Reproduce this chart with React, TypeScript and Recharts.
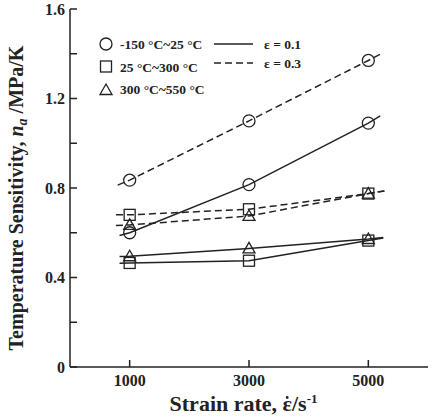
import {
  ComposedChart,
  Line,
  Scatter,
  XAxis,
  YAxis,
  Label,
} from "recharts";

// strain rates (s^-1) where the points were measured
const rates = [1000, 3000, 5000];

// temperature sensitivity, MPa/K
const circle01 = [0.6, 0.815, 1.09];
const circle03 = [0.835, 1.1, 1.37];
const square01 = [0.465, 0.475, 0.565];
const square03 = [0.68, 0.705, 0.775];
const tri01 = [0.495, 0.53, 0.572];
const tri03 = [0.635, 0.675, 0.775];

// where the drawn lines begin and end (rate, value)
const circle01Ends = [[830, 0.588], [5200, 1.122]];
const circle03Ends = [[800, 0.813], [5200, 1.398]];
const square01Ends = [[830, 0.464], [5250, 0.577]];
const square03Ends = [[770, 0.68], [5270, 0.787]];
const tri01Ends = [[830, 0.494], [5250, 0.579]];
const tri03Ends = [[770, 0.632], [5270, 0.787]];

const xTicks = [1000, 3000, 5000];
const yTicks = [0, 0.2, 0.4, 0.6, 0.8, 1.0, 1.2, 1.4, 1.6];

const legendTemps = ["-150 °C~25 °C", "25 °C~300 °C", "300 °C~550 °C"];
const legendStrains = ["ε = 0.1", "ε = 0.3"];

const FONT = '"Liberation Serif", "Times New Roman", serif';
const INK = "#222";

const points = (vals: number[]) => rates.map((x, i) => ({ x, y: vals[i] }));
const fitLine = (vals: number[], ends: number[][]) => [
  { x: ends[0][0], y: ends[0][1] },
  ...points(vals),
  { x: ends[1][0], y: ends[1][1] },
];

const circleShape = (p: any) => (
  <circle cx={p.cx} cy={p.cy} r={6} fill="none" stroke={INK} strokeWidth={1.3} />
);
const squareShape = (p: any) => (
  <rect x={p.cx - 5.5} y={p.cy - 5.5} width={11} height={11} fill="none" stroke={INK} strokeWidth={1.3} />
);
const triShape = (p: any) => (
  <polygon
    points={`${p.cx},${p.cy - 6} ${p.cx - 6},${p.cy + 4.5} ${p.cx + 6},${p.cy + 4.5}`}
    fill="none"
    stroke={INK}
    strokeWidth={1.3}
  />
);

const yTitle = (props: any) => {
  const vb = props.viewBox;
  const cx = vb.x + 23;
  const cy = 198;
  return (
    <text
      x={cx}
      y={cy}
      transform={`rotate(-90 ${cx} ${cy})`}
      textAnchor="middle"
      fontFamily={FONT}
      fontWeight="bold"
      fontSize={20}
      fill={INK}
    >
      Temperature Sensitivity,{" "}
      <tspan fontStyle="italic">n</tspan>
      <tspan fontStyle="italic" fontSize={14} dy={4}>a</tspan>
      <tspan dy={-4}> /MPa/K</tspan>
    </text>
  );
};

const xTitle = (props: any) => {
  const vb = props.viewBox;
  const y = vb.y + 44;
  const split = 292;
  return (
    <g fontFamily={FONT} fontWeight="bold" fontSize={22} fill={INK}>
      <text x={split} y={y} textAnchor="end">
        Strain rate, ε
      </text>
      <circle cx={split - 4.8} cy={y - 13.5} r={1.4} fill={INK} />
      <text x={split} y={y}>
        /s<tspan fontSize={13} dy={-8}>-1</tspan>
      </text>
    </g>
  );
};

const tickStyle = { fontFamily: FONT, fontWeight: "bold", fontSize: 16, fill: INK };
const yFmt = (v: number) => {
  const t = Math.round(v * 10);
  if (t % 4 !== 0) return "";
  return t === 0 ? "0" : (t / 10).toFixed(1);
};

function Legend() {
  const rows = [44, 66.5, 89];
  return (
    <svg
      width={433}
      height={418}
      style={{ position: "absolute", left: 0, top: 0, pointerEvents: "none" }}
    >
      <g fontFamily={FONT} fontWeight="bold" fontSize={13.5} fill={INK}>
        {circleShape({ cx: 106, cy: rows[0] })}
        {squareShape({ cx: 106, cy: rows[1] })}
        {triShape({ cx: 106, cy: rows[2] + 1 })}
        {legendTemps.map((t, i) => (
          <text key={t} x={120} y={rows[i] + 5}>
            {t}
          </text>
        ))}
        <line x1={214} x2={253} y1={44} y2={44} stroke={INK} strokeWidth={1.5} />
        <line x1={214} x2={253} y1={63} y2={63} stroke={INK} strokeWidth={1.5} strokeDasharray="7 4" />
        {legendStrains.map((t, i) => (
          <text key={t} x={264} y={(i === 0 ? 44 : 63) + 5}>
            {t}
          </text>
        ))}
      </g>
    </svg>
  );
}

export default function App() {
  const lines = [
    { data: fitLine(circle01, circle01Ends), dash: undefined },
    { data: fitLine(circle03, circle03Ends), dash: "7 4" },
    { data: fitLine(square01, square01Ends), dash: undefined },
    { data: fitLine(square03, square03Ends), dash: "7 4" },
    { data: fitLine(tri01, tri01Ends), dash: undefined },
    { data: fitLine(tri03, tri03Ends), dash: "7 4" },
  ];
  return (
    <div style={{ position: "absolute", left: 0, top: 0, width: 433, height: 418, background: "#fff" }}>
      <ComposedChart width={433} height={418} margin={{ top: 9, right: 5, left: 0, bottom: 0 }}>
        <XAxis
          type="number"
          dataKey="x"
          domain={[0, 6000]}
          ticks={xTicks}
          tickSize={-7}
          tickMargin={15}
          height={51}
          stroke={INK}
          strokeWidth={1.5}
          tick={tickStyle}
          allowDataOverflow
        >
          <Label content={xTitle} />
        </XAxis>
        <XAxis
          xAxisId="top"
          orientation="top"
          type="number"
          domain={[0, 6000]}
          ticks={xTicks}
          tickSize={-7}
          tick={false}
          height={0}
          stroke={INK}
          strokeWidth={1.5}
        />
        <YAxis
          type="number"
          domain={[0, 1.6]}
          ticks={yTicks}
          tickFormatter={yFmt}
          tickSize={-7}
          tickMargin={12}
          width={70}
          stroke={INK}
          strokeWidth={1.5}
          tick={tickStyle}
          interval={0}
          allowDataOverflow
        >
          <Label content={yTitle} />
        </YAxis>
        <YAxis
          yAxisId="right"
          orientation="right"
          type="number"
          domain={[0, 1.6]}
          ticks={yTicks}
          tickSize={-7}
          tick={false}
          width={0}
          stroke={INK}
          strokeWidth={1.5}
          interval={0}
        />
        {lines.map((l, i) => (
          <Line
            key={`line-${i}`}
            data={l.data}
            dataKey="y"
            type="linear"
            stroke={INK}
            strokeWidth={1.5}
            strokeDasharray={l.dash}
            dot={false}
            activeDot={false}
            isAnimationActive={false}
          />
        ))}
        <Scatter data={points(circle01)} dataKey="y" shape={circleShape} isAnimationActive={false} />
        <Scatter data={points(circle03)} dataKey="y" shape={circleShape} isAnimationActive={false} />
        <Scatter data={points(square01)} dataKey="y" shape={squareShape} isAnimationActive={false} />
        <Scatter data={points(square03)} dataKey="y" shape={squareShape} isAnimationActive={false} />
        <Scatter data={points(tri01)} dataKey="y" shape={triShape} isAnimationActive={false} />
        <Scatter data={points(tri03)} dataKey="y" shape={triShape} isAnimationActive={false} />
      </ComposedChart>
      <Legend />
    </div>
  );
}
